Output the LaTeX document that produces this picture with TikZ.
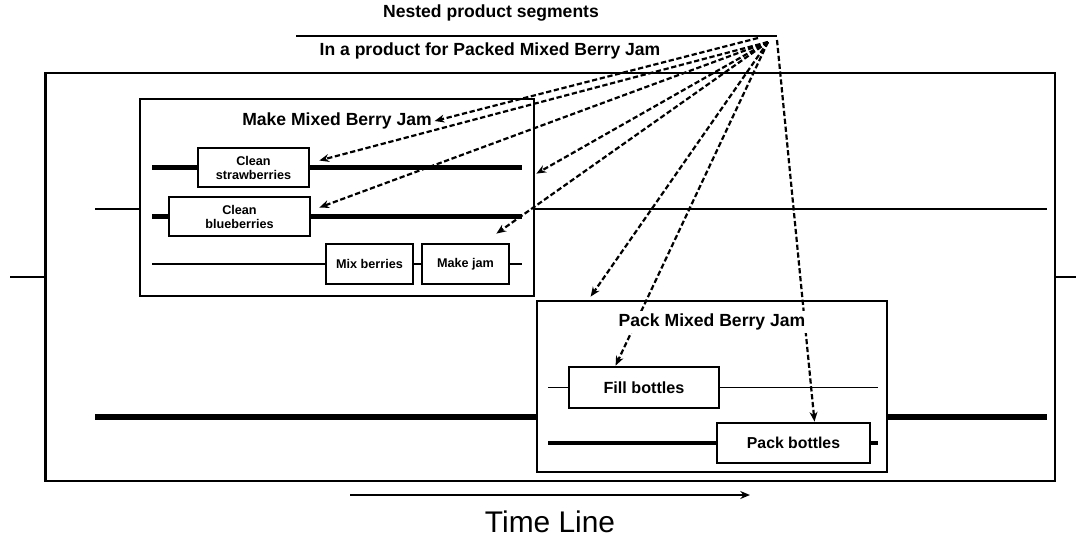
\documentclass[tikz,border=0pt]{standalone}
\usepackage{fontspec}
\setmainfont{Liberation Sans}
\usetikzlibrary{arrows.meta,calc}

\begin{document}
\begin{tikzpicture}[x=0.02cm,y=-0.02cm,
        >={Stealth[length=5.5pt,width=4.5pt]},
        frame/.style={draw,line width=1.6pt,inner sep=0pt},
        task/.style={draw,line width=1.6pt,inner sep=0pt,align=center,
            font=\fontsize{7.2}{8}\selectfont\bfseries},
        thin lane/.style={line width=1.1pt},
        thick lane/.style={line width=2.4pt},
        seg/.style={->,line width=1.25pt,dash pattern=on 3pt off 1.5pt},
        caption/.style={font=\fontsize{10}{12}\selectfont\bfseries,inner sep=1.5pt}]
        \useasboundingbox (0,0) rectangle (1076,539);

        % heading
        \node[caption] (head) at (491,13) {Nested product segments};
        \node[caption] (sub) at (490,51) {In a product for Packed Mixed Berry Jam};
        \coordinate (ul0) at (296,36);
        \coordinate (ul1) at (777,36);
        \draw[line width=1.3pt] (ul0) -- (ul1);

        % product and segments
        \node[frame,minimum width=20.2cm,minimum height=8.16cm] (prod) at (550,277) {};
        \node[frame,minimum width=7.88cm,minimum height=3.94cm] (make) at (337,197.5) {};
        \node[frame,minimum width=7cm,minimum height=3.42cm] (pack) at (712,386.5) {};
        \node[caption] (mtitle) at (337,121) {Make Mixed Berry Jam};

        % tasks
        \node[task,minimum width=2.22cm,minimum height=0.78cm] (cs) at (253.5,167.5) {Clean\\strawberries};
        \node[task,minimum width=2.82cm,minimum height=0.78cm] (cb) at (239.5,216.5) {Clean\\blueberries};
        \node[task,minimum width=1.74cm,minimum height=0.8cm] (mb) at (369.5,264) {Mix berries};
        \node[task,minimum width=1.74cm,minimum height=0.8cm] (mj) at (465.5,264) {Make jam};
        \node[task,minimum width=3cm,minimum height=0.82cm,font=\fontsize{9.2}{11}\selectfont\bfseries] (fb) at (644,387.5) {Fill bottles};
        \node[task,minimum width=3.06cm,minimum height=0.8cm,font=\fontsize{9}{11}\selectfont\bfseries] (pb) at (793.5,443) {Pack bottles};

        % lanes
        \coordinate (in) at (10,277);
        \coordinate (out) at (1076,277);
        \draw[thin lane] (in) -- (prod.west);
        \draw[thin lane] (prod.east) -- (out);
        \coordinate (ma) at (95,209);
        \coordinate (mz) at (1047,209);
        \draw[thin lane] (ma) -- (ma -| make.west);
        \draw[thin lane] (make.east |- ma) -- (mz);
        \coordinate (pa) at (95,417);
        \coordinate (pz) at (1047,417);
        \draw[line width=3.2pt] (pa) -- (pa -| pack.west);
        \draw[line width=3.2pt] (pack.east |- pa) -- (pz);
        \coordinate (a1) at (152,167.5);
        \coordinate (z1) at (522,167.5);
        \draw[thick lane] (a1) -- (cs.west);
        \draw[thick lane] (cs.east) -- (z1);
        \coordinate (a2) at (152,216.5);
        \coordinate (z2) at (522,216.5);
        \draw[thick lane] (a2) -- (cb.west);
        \draw[thick lane] (cb.east) -- (z2);
        \coordinate (a3) at (152,264);
        \coordinate (z3) at (522,264);
        \draw[thin lane] (a3) -- (mb.west);
        \draw[thin lane] (mb.east) -- (mj.west);
        \draw[thin lane] (mj.east) -- (z3);
        \coordinate (a4) at (548,387.5);
        \coordinate (z4) at (878,387.5);
        \draw[thin lane] (a4) -- (fb.west);
        \draw[thin lane] (fb.east) -- (z4);
        \coordinate (a5) at (548,443);
        \coordinate (z5) at (878,443);
        \draw[thick lane] (a5) -- (pb.west);
        \draw[thick lane] (pb.east) -- (z5);

        % nesting arrows
        \coordinate (src) at (768,42);
        \coordinate (src1) at (758,38);
        \coordinate (src2) at (777,40);
        \draw[seg] (src1) -- (mtitle.east);
        \draw[seg] (src) -- ($(cs.east)+(9,-7)$);
        \draw[seg] (src) -- ($(cb.east)+(8,-9)$);
        \draw[seg] (src) -- ($(make.north east)+(1,76)$);
        \draw[seg] (src) -- ($(mj.north east)+(-14,-9)$);
        \draw[seg] (src) -- ($(pack.north west)+(55,-3)$);
        \draw[seg] (src) -- ($(fb.north west)+(48,0)$);
        \draw[seg] (src2) -- ($(pb.north)+(21,0)$);
        \node[caption,fill=white] (ptitle) at (712,322) {Pack Mixed Berry Jam};

        % time line
        \coordinate (t0) at (350,495);
        \coordinate (t1) at (750,495);
        \draw[->,line width=1.1pt] (t0) -- (t1);
        \node[font=\fontsize{17}{20}\selectfont] (tl) at (550,522) {Time Line};
    \end{tikzpicture}
\end{document}
